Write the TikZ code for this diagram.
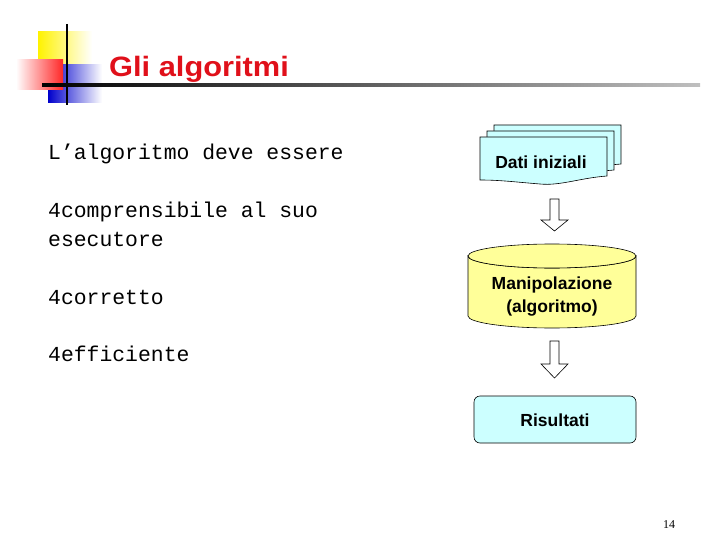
\documentclass[tikz,border=0pt]{standalone}
\usepackage{fontspec}
\setmainfont{Liberation Sans}
\newfontfamily\monof{Liberation Mono}
\newfontfamily\serf{Liberation Serif}
\usetikzlibrary{shapes.geometric}
\definecolor{cy}{HTML}{CCFFFF}
\definecolor{yl}{HTML}{FFFF99}
\definecolor{tred}{HTML}{E0101A}
\tikzset{
 doc/.style={draw=black,fill=cy,line width=0.6pt},
 lbl/.style={font=\bfseries\fontsize{17.5}{20}\selectfont,align=center},
 body/.style={anchor=base west,inner sep=0,font=\monof\fontsize{21.4}{24}\selectfont},
 harrow/.style={draw=black,fill=white,line width=0.6pt}
}
\begin{document}
\begin{tikzpicture}[x=1pt,y=-1pt]
\useasboundingbox (0,0) rectangle (720,540);
% logo
\fill[left color=yellow!90!orange,right color=white] (38,32) rectangle (92,82);
\fill[left color=blue!80!black,right color=white] (48,65) rectangle (102,103);
\fill[right color=red!85,left color=white] (16,60) rectangle (63,90);
\draw[line width=1.6pt] (67,24) -- (67,105);
\shade[left color=black,right color=gray!50] (42,84) rectangle (700,86.5);
\node[anchor=base west,inner sep=0,text=tred,xscale=1.1,font=\bfseries\fontsize{28}{32}\selectfont] (title) at (109,77) {Gli algoritmi};
% body text
\node[body] (t1) at (48,160) {L’algoritmo deve essere};
\node[body] (t2) at (48,218) {4comprensibile al suo};
\node[body] (t3) at (48,246) {esecutore};
\node[body] (t4) at (48,304) {4corretto};
\node[body] (t5) at (48,361) {4efficiente};
% documents
\foreach \dx/\dy in {14/-12,7/-6,0/0}{
 \draw[doc] (480+\dx,137+\dy) -- (607+\dx,137+\dy) -- (607+\dx,176+\dy)
   .. controls (580+\dx,178+\dy) and (560+\dx,186+\dy) .. (540+\dx,184+\dy)
   .. controls (515+\dx,182+\dy) and (500+\dx,180+\dy) .. (480+\dx,180+\dy) -- cycle;
}
\node[lbl] (dati) at (541,162) {Dati iniziali};
% arrows
\draw[harrow] (550,199) -- (559,199) -- (559,220) -- (568,220) -- (554.5,231) -- (541,220) -- (550,220) -- cycle;
\draw[harrow] (550,341) -- (559,341) -- (559,364) -- (568,364) -- (554.5,378) -- (541,364) -- (550,364) -- cycle;
% cylinder
\draw[fill=yl,line width=0.6pt] (468,256) arc[start angle=180,end angle=360,x radius=84,y radius=-12] -- (636,316) arc[start angle=0,end angle=-180,x radius=84,y radius=-12] -- cycle;
\draw[fill=yl,line width=0.6pt] (552,256) ellipse[x radius=84,y radius=12];
\node[lbl,font=\bfseries\fontsize{17.5}{23}\selectfont] (manip) at (552,297) {Manipolazione\\(algoritmo)};
% results
\draw[fill=cy,rounded corners=6pt,line width=0.6pt] (474,396) rectangle (636,443);
\node[lbl] (ris) at (555,420) {Risultati};
\node[anchor=base,inner sep=0,font=\serf\fontsize{12}{14}\selectfont] (pg) at (669,528) {14};
\end{tikzpicture}
\end{document}
